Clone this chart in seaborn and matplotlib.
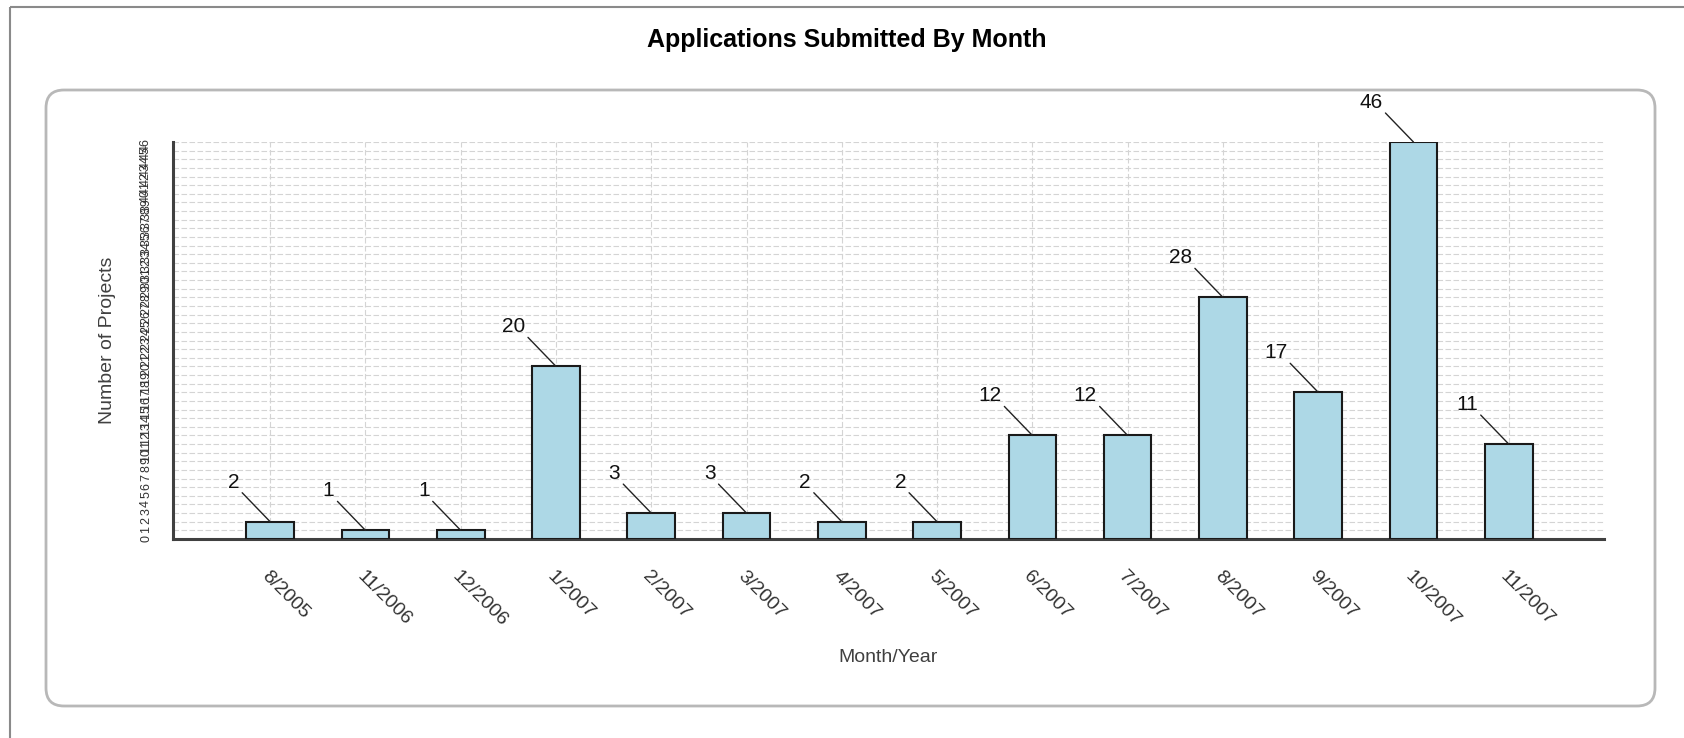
import matplotlib
matplotlib.use('Agg')
import matplotlib.pyplot as plt
import seaborn as sns
import pandas as pd
from matplotlib.patches import FancyBboxPatch, Rectangle

# ---- data ----
months = ["8/2005", "11/2006", "12/2006", "1/2007", "2/2007", "3/2007", "4/2007",
          "5/2007", "6/2007", "7/2007", "8/2007", "9/2007", "10/2007", "11/2007"]
projects = [2, 1, 1, 20, 3, 3, 2, 2, 12, 12, 28, 17, 46, 11]
y_ticks = list(range(0, 47))
title = "Applications Submitted By Month"
x_title = "Month/Year"
y_title = "Number of Projects"

sns.set_style("white")
plt.rcParams['font.family'] = ['Liberation Sans', 'DejaVu Sans']

W, H = 1684, 738
fig = plt.figure(figsize=(W / 100, H / 100), dpi=100)
fig.patch.set_facecolor('white')

# background frame + rounded panel (pixel coordinates)
bg = fig.add_axes([0, 0, 1, 1], zorder=0)
bg.set_xlim(0, W)
bg.set_ylim(H, 0)
bg.axis('off')
bg.add_patch(Rectangle((10, 7), W + 40, H + 40, fill=False, ec='#8a8a8a', lw=1.5))
bg.add_patch(FancyBboxPatch((46, 90), 1655 - 46, 706 - 90,
                            boxstyle='round,pad=0,rounding_size=18',
                            fc='white', ec='#b8b8b8', lw=2))

ax = fig.add_axes([173 / W, 1 - 539 / H, (1604 - 173) / W, (539 - 142) / H], zorder=1)
ax.patch.set_alpha(0)

df = pd.DataFrame({"Month": months, "Projects": projects})
sns.barplot(data=df, x="Month", y="Projects", order=months, color='#add8e6',
            saturation=1, width=0.5, edgecolor='#1a1a1a', linewidth=1.5,
            ax=ax, zorder=3)

ax.set_axisbelow(True)
ax.set_ylim(0, 46)
ax.set_xlim(-1.02, 14.0)
ax.set_yticks(y_ticks)
ax.set_yticklabels([str(v) for v in y_ticks], rotation=90, fontsize=9, color='#333333')
ax.set_xticks(range(len(months)))
ax.set_xticklabels(months, rotation=-45, ha='left', va='top', rotation_mode='anchor',
                   fontsize=14, color='#333333')
ax.set_xticks([-1.02, 14.0], minor=True)

ax.tick_params(axis='x', which='both', length=10, width=2, color='#404040', pad=11)
ax.tick_params(axis='y', which='both', length=9, width=1.5, color='#404040', pad=6)

for s in ['top', 'right']:
    ax.spines[s].set_visible(False)
for s in ['left', 'bottom']:
    ax.spines[s].set_linewidth(2.2)
    ax.spines[s].set_color('#404040')

ax.grid(True, which='major', axis='both', color='#d4d4d4',
        linestyle=(0, (5, 2.2)), lw=0.8)

for i, v in enumerate(projects):
    ax.annotate('', xy=(i, v), xytext=(-28, 29), textcoords='offset pixels',
                arrowprops=dict(arrowstyle='-', color='#222222', lw=1,
                                shrinkA=0, shrinkB=0), annotation_clip=False)
    ax.annotate(str(v), xy=(i, v), xytext=(-31, 34), textcoords='offset pixels',
                ha='right', va='baseline', fontsize=15, color='#111111',
                annotation_clip=False)

ax.set_xlabel(x_title, fontsize=14, color='#404040')
ax.xaxis.label.set_va('baseline')
ax.xaxis.set_label_coords(0.5, (539 - 662) / (539 - 142))
ax.set_ylabel(y_title, fontsize=14, color='#404040')
ax.yaxis.label.set_va('center')
ax.yaxis.set_label_coords((108 - 173) / (1604 - 173), 0.5)

fig.text(847 / W, 1 - 47 / H, title, ha='center', va='baseline',
         fontsize=18, fontweight='bold', color='black')

fig.savefig('out.png', dpi=100, facecolor='white')
